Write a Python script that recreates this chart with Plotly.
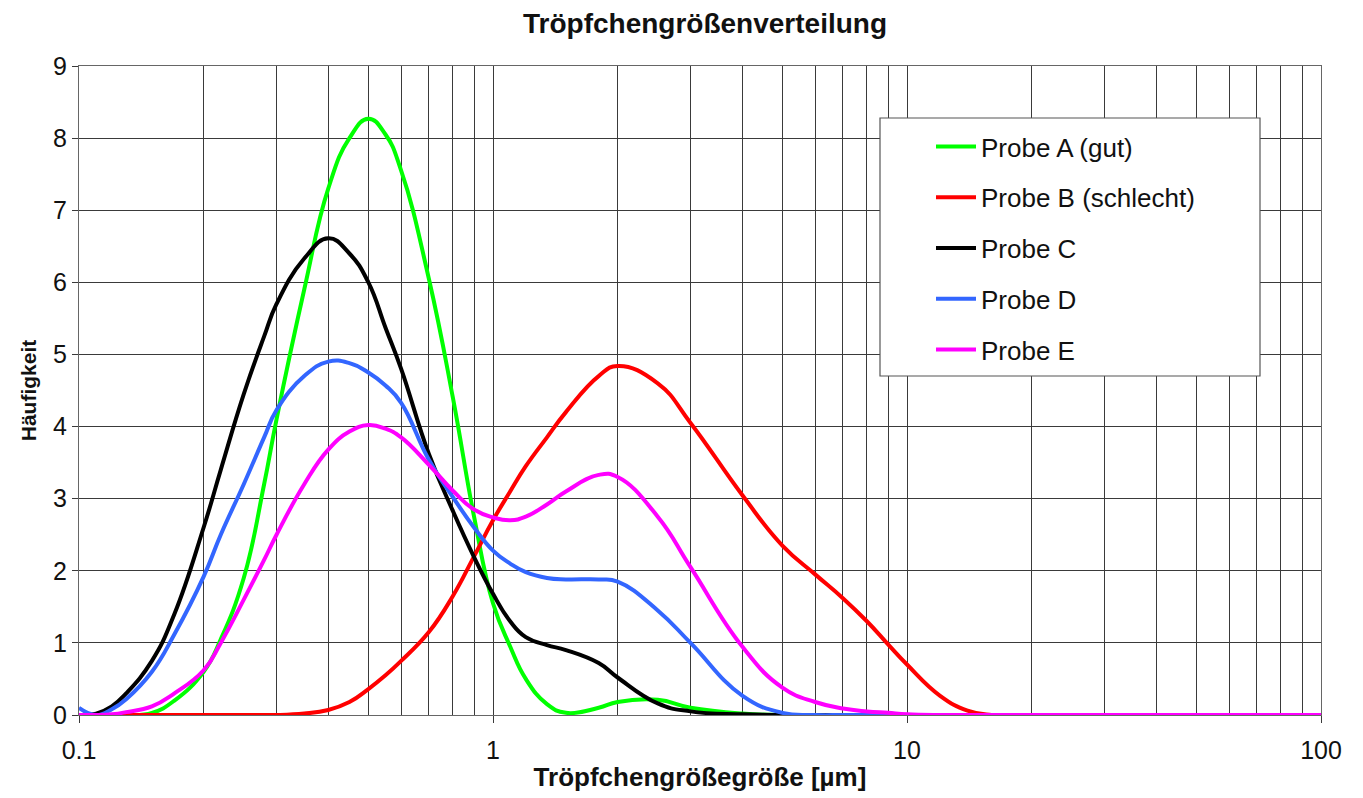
import plotly.graph_objects as go

x_size = [0.1, 0.11, 0.12, 0.13, 0.15, 0.17, 0.2, 0.22, 0.25, 0.28, 0.3, 0.35, 0.4, 0.45, 0.5, 0.55, 0.6,
          0.7, 0.8, 0.9, 1.0, 1.1, 1.2, 1.35, 1.5, 1.8, 2.0, 2.5, 3.0, 4.0, 5.0, 6.0, 7.0, 8.0, 9.0,
          10, 12, 14, 16, 20, 30, 50, 70, 100, 105]

probe_a = [0, 0, 0, 0, 0.03, 0.2, 0.6, 1.05, 1.9, 3.2, 4.1, 5.9, 7.3, 8.0, 8.27, 8.05, 7.55,
           6.05, 4.4, 2.75, 1.55, 0.95, 0.5, 0.15, 0.03, 0.1, 0.18, 0.21, 0.1, 0.02, 0, 0, 0, 0, 0,
           0, 0, 0, 0, 0, 0, 0, 0, 0, 0]
probe_b = [0, 0, 0, 0, 0, 0, 0, 0, 0, 0, 0, 0.02, 0.07, 0.18, 0.36, 0.55, 0.75,
           1.15, 1.65, 2.2, 2.7, 3.1, 3.45, 3.85, 4.2, 4.7, 4.84, 4.6, 4.05, 3.05, 2.35, 1.95, 1.62, 1.3, 0.98,
           0.7, 0.27, 0.06, 0, 0, 0, 0, 0, 0, 0]
probe_c = [0, 0.02, 0.12, 0.3, 0.75, 1.4, 2.6, 3.4, 4.45, 5.25, 5.7, 6.33, 6.61, 6.4, 6.0, 5.37, 4.8,
           3.62, 2.83, 2.19, 1.68, 1.3, 1.08, 0.97, 0.9, 0.72, 0.52, 0.16, 0.05, 0.01, 0, 0, 0, 0, 0,
           0, 0, 0, 0, 0, 0, 0, 0, 0, 0]
probe_d = [0.1, 0.0, 0.08, 0.22, 0.6, 1.12, 1.92, 2.5, 3.2, 3.85, 4.23, 4.7, 4.9, 4.88, 4.75, 4.57, 4.33,
           3.54, 3.02, 2.6, 2.28, 2.1, 1.98, 1.9, 1.88, 1.88, 1.85, 1.45, 1.0, 0.27, 0.03, 0, 0, 0, 0,
           0, 0, 0, 0, 0, 0, 0, 0, 0, 0]
probe_e = [0, 0, 0.01, 0.04, 0.12, 0.3, 0.62, 1.0, 1.6, 2.15, 2.5, 3.2, 3.68, 3.93, 4.02, 3.97, 3.85,
           3.47, 3.11, 2.85, 2.74, 2.7, 2.75, 2.92, 3.1, 3.33, 3.3, 2.75, 2.05, 0.95, 0.38, 0.18, 0.09, 0.05, 0.03,
           0.01, 0, 0, 0, 0, 0, 0, 0, 0, 0]

series_names = ["Probe A (gut)", "Probe B (schlecht)", "Probe C", "Probe D", "Probe E"]
series_values = [probe_a, probe_b, probe_c, probe_d, probe_e]
series_colors = ["#00FF00", "#FF0000", "#000000", "#3366FF", "#FF00FF"]

major_ticks = [0.1, 1, 10, 100]
major_labels = ["0.1", "1", "10", "100"]
minor_ticks = [m * d for d in (0.1, 1, 10) for m in range(2, 10)]

FONT = "Liberation Sans, Arial, sans-serif"
GRID = "#3a3a3a"
TXT = "#111111"

W, H = 1355, 790  # page body adds an 8px offset

fig = go.Figure()
for name, vals, col in zip(series_names, series_values, series_colors):
    fig.add_trace(go.Scatter(
        x=x_size, y=vals, name=name, mode="lines",
        line=dict(color=col, width=4, shape="spline", smoothing=1.3),
        legendgroup=name,
    ))

fig.update_layout(
    width=W, height=H,
    margin=dict(l=71, r=42, t=58, b=83),
    paper_bgcolor="white", plot_bgcolor="white",
    font=dict(family=FONT, color=TXT),
    title=dict(text="<b>Tröpfchengrößenverteilung</b>", x=697 / W, xref="container", xanchor="center",
               y=1 - 15 / H, yref="container", yanchor="middle",
               font=dict(size=28, family=FONT, color=TXT)),
    showlegend=True,
    legend=dict(x=(931 - 79) / 1242, xanchor="left", y=(715 - 123) / 649, yanchor="top",
                bgcolor="rgba(0,0,0,0)", borderwidth=0,
                font=dict(size=26, family=FONT, color=TXT),
                tracegroupgap=14, itemwidth=40),
    shapes=[dict(type="rect", xref="paper", yref="paper",
                 x0=(880 - 79) / 1242, x1=(1260 - 79) / 1242,
                 y0=(715 - 376) / 649, y1=(715 - 118) / 649,
                 fillcolor="white", line=dict(color="#555555", width=1.2), layer="above")],
)

fig.update_xaxes(
    type="log", range=[-1, 2], automargin=False,
    tickmode="array", tickvals=major_ticks, ticktext=major_labels,
    ticks="outside", ticklen=7, tickcolor=GRID, tickwidth=1.2, ticklabelstandoff=6,
    showgrid=True, gridcolor=GRID, gridwidth=1.2,
    minor=dict(tickmode="array", tickvals=minor_ticks, showgrid=True, gridcolor=GRID, gridwidth=1.2, ticks=""),
    showline=True, linecolor="#666666", linewidth=1.2, mirror=True,
    zeroline=False,
    tickfont=dict(size=25, family=FONT, color=TXT),
    title=dict(text="<b>Tröpfchengrößegröße [µm]</b>", standoff=4,
               font=dict(size=26, family=FONT, color=TXT)),
)
fig.update_yaxes(
    range=[0, 9], tickmode="array", tickvals=list(range(10)), automargin=False,
    ticks="outside", ticklen=6, tickcolor=GRID, tickwidth=1.2, ticklabelstandoff=0,
    showgrid=True, gridcolor=GRID, gridwidth=1.2,
    showline=True, linecolor="#666666", linewidth=1.2, mirror=True,
    zeroline=False,
    tickfont=dict(size=25, family=FONT, color=TXT),
    title=dict(text="<b>Häufigkeit</b>", standoff=10,
               font=dict(size=21, family=FONT, color=TXT)),
)

fig.write_html("out.html")
